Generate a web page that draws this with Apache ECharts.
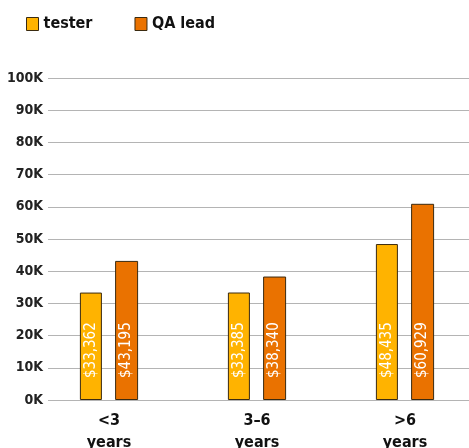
<!DOCTYPE html>
<html>
<head>
<meta charset="utf-8">
<script src="https://cdn.jsdelivr.net/npm/echarts@6/dist/echarts.min.js"></script>
<style>
  html, body { margin: 0; padding: 0; background: #fff; }
  #chart { width: 469px; height: 448px; }
</style>
</head>
<body>
<div id="chart"></div>
<script>
// Salary by experience band, tester vs QA lead
const categories = ['<3\nyears', '3–6\nyears', '>6\nyears'];
const seriesNames = ['tester', 'QA lead'];
const testerValues = [33362, 33385, 48435];
const qaLeadValues = [43195, 38340, 60929];
const yTickValues = [0, 10000, 20000, 30000, 40000, 50000, 60000, 70000, 80000, 90000, 100000];

const FONT = '"DejaVu Sans Condensed", "Liberation Sans Narrow", "DejaVu Sans", sans-serif';
const colors = ['#FFB300', '#EA7200'];

const yMin = yTickValues[0];
const yMax = yTickValues[yTickValues.length - 1];
const yStep = yTickValues[1] - yTickValues[0];

function money(v) {
  return '$' + v.toLocaleString('en-US');
}

const chart = echarts.init(document.getElementById('chart'), null, { renderer: 'canvas' });

const barLabel = {
  show: true,
  position: 'insideBottom',
  distance: 22,
  rotate: 90,
  align: 'left',
  verticalAlign: 'middle',
  color: '#ffffff',
  fontFamily: FONT,
  fontSize: 15,
  formatter: p => money(p.value)
};

chart.setOption({
  animation: false,
  color: colors,
  legend: {
    data: seriesNames,
    left: 21,
    top: 11,
    itemWidth: 12,
    itemHeight: 13,
    itemGap: 42,
    icon: 'rect',
    textStyle: { fontFamily: FONT, fontSize: 16, color: '#111', fontWeight: 'bold' },
    itemStyle: { borderColor: '#3a2a10', borderWidth: 1 }
  },
  grid: [
    { left: 48, right: 0, top: 78, bottom: 48, outerBoundsMode: 'none' },
    { left: 35, width: 444, top: 78, bottom: 48, outerBoundsMode: 'none' }
  ],
  xAxis: [
    { gridIndex: 0, type: 'category', data: categories, show: false },
    {
      gridIndex: 1,
      type: 'category',
      data: categories,
      axisLine: { show: false },
      axisTick: { show: false },
      axisLabel: {
        margin: 10,
        fontFamily: FONT,
        fontSize: 16,
        fontWeight: 'bold',
        lineHeight: 22,
        color: '#111'
      }
    }
  ],
  yAxis: [
    {
      gridIndex: 0,
      type: 'value',
      min: yMin,
      max: yMax,
      interval: yStep,
      axisLine: { show: false },
      axisTick: { show: false },
      splitLine: { lineStyle: { color: '#b4b4b4', width: 1 } },
      axisLabel: {
        margin: 5,
        fontFamily: FONT,
        fontSize: 14,
        fontWeight: 'bold',
        color: '#222',
        formatter: v => (v / 1000) + 'K'
      }
    },
    {
      gridIndex: 1,
      type: 'value',
      min: yMin,
      max: yMax,
      interval: yStep,
      show: false,
      splitLine: { show: false }
    }
  ],
  series: [
    {
      name: seriesNames[0],
      type: 'bar',
      xAxisIndex: 1,
      yAxisIndex: 1,
      data: testerValues,
      barWidth: 22,
      barGap: '60%',
      itemStyle: { color: colors[0], borderColor: '#3a2a10', borderWidth: 1 },
      label: barLabel
    },
    {
      name: seriesNames[1],
      type: 'bar',
      xAxisIndex: 1,
      yAxisIndex: 1,
      data: qaLeadValues,
      barWidth: 23,
      barGap: '60%',
      itemStyle: { color: colors[1], borderColor: '#3a2a10', borderWidth: 1 },
      label: barLabel
    }
  ]
});
</script>
</body>
</html>
